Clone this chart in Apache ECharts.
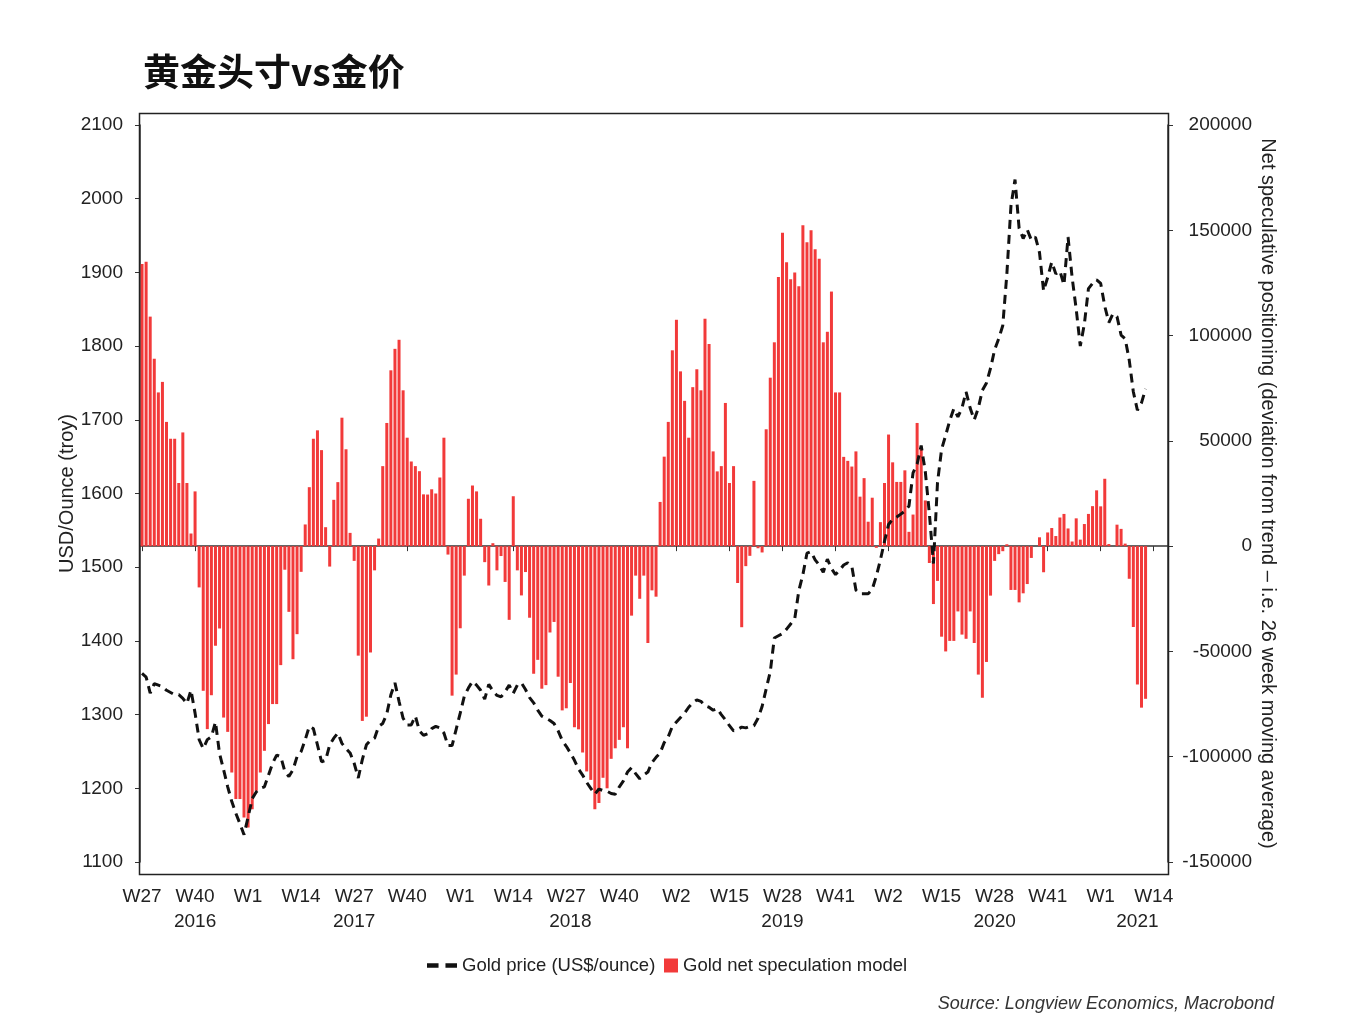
<!DOCTYPE html>
<html>
<head>
<meta charset="utf-8">
<script src="https://cdn.jsdelivr.net/npm/echarts@6/dist/echarts.min.js"></script>
<style>html,body{margin:0;padding:0;background:#fff}#c{width:1350px;height:1029px}</style>
</head>
<body>
<div id="c"></div>
<script>
// ---------- DATA ----------
const weekRanges = [[2016,27,52],[2017,1,52],[2018,1,52],[2019,1,52],[2020,1,53],[2021,1,17]];
const categories = [];
weekRanges.forEach(([y,a,b]) => { for (let w = a; w <= b; w++) categories.push(y + '-W' + w); });

const tickCats = ['2016-W27','2016-W40','2017-W1','2017-W14','2017-W27','2017-W40','2018-W1','2018-W14','2018-W27','2018-W40',
  '2019-W2','2019-W15','2019-W28','2019-W41','2020-W2','2020-W15','2020-W28','2020-W41','2021-W1','2021-W14'];
const yearCats = ['2016-W40','2017-W27','2018-W28','2019-W28','2020-W28','2021-W10'];
const yearText = ['2016','2017','2018','2019','2020','2021'];

const netSpec = [
 134000,135000,109000,89000,73000,78000,59000,51000,51000,30000,54000,30000,6000,26000,
 -19600,-68700,-86900,-70800,-47300,-39100,-81400,-88200,-107500,-120100,-120100,-128900,-133600,-124900,
 -116200,-107500,-97200,-84500,-75000,-75000,-56500,-11200,-31200,-53700,-41800,-12200,
 10300,28000,51000,55000,45600,9000,-9700,22000,30400,61000,46000,6300,
 -7000,-52000,-83000,-81000,-50500,-11500,
 3600,38000,58500,83500,93700,98000,74000,51500,40200,38000,35600,24600,24500,27000,25000,32600,51500,
 -4000,-71000,-61000,-39000,-14000,
 22500,28800,26000,13000,-7600,-18700,1400,-11500,-4700,-17000,-35000,23700,
 -11500,-23400,-12300,-34000,-60600,-54000,-67700,-66000,-41000,-36000,-62000,-78000,-77000,-65000,
 -86000,-87000,-98000,-107000,-111000,-125000,-122000,-110000,-115000,-101000,-96000,-92000,-86000,-96000,
 -33000,-14000,-25000,-14000,-46000,-21000,-24000,
 21000,42500,59000,93000,107500,83000,69000,51500,75500,84000,74000,108000,96000,45000,35500,38000,68000,30000,38000,
 -17500,-38500,-9500,-4600,31000,-1000,-3000,
 55500,80000,96800,127800,148800,134800,126800,129900,123400,152400,144300,150000,141000,136500,96800,101800,120900,
 73000,73000,42400,40500,37800,45000,23500,32300,11600,23000,-800,11400,30000,53000,39800,30500,30500,36000,6800,
 15000,58500,46600,21700,
 -8000,-27500,-16500,-43000,-50000,-45000,-45000,-31000,-42000,-44000,-31000,-46000,-61000,-72000,-55000,-23500,
 -7000,-3800,-2400,900,-20800,-20800,-26700,-22400,-18000,-5600,0,4200,-12400,
 6500,8600,4800,13600,15300,8400,2200,13200,3100,10500,15300,19000,26500,18900,32000,1000,0,10200,8200,1200,
 -15500,-38400,-65700,-76700,-72500
];

const goldPrice = [
 1356,1351,1329,1342,1340,1338,1333,1330,1327,1327,1322,1315,1333,1302,1266,1254,1266,1270,1290,1247,
 1225,1202,1182,1166,1152,1137,1161,1186,1195,1200,1202,1218,1234,1245,1243,1223,1216,1225,1243,1250,
 1266,1284,1281,1259,1236,1238,1259,1268,1275,1261,1254,1248,1234,1214,1239,1259,1265,1268,1284,1288,
 1301,1327,1343,1318,1295,1286,1286,1298,1278,1272,1274,1281,1284,1282,1275,1258,1258,1280,1302,1325,
 1336,1345,1340,1333,1321,1341,1332,1326,1324,1331,1340,1329,1340,1343,1334,1323,1316,1306,1298,1295,
 1292,1288,1278,1265,1257,1248,1238,1226,1218,1208,1200,1192,1199,1197,1196,1193,1192,1202,1210,1222,
 1228,1220,1213,1218,1222,1235,1242,1248,1262,1270,1284,1290,1296,1302,1310,1316,1320,1318,1312,1310,
 1306,1308,1300,1293,1285,1278,1280,1283,1282,1284,1285,1295,1311,1335,1358,1404,1407,1410,1416,1423,
 1430,1468,1490,1519,1521,1510,1503,1493,1511,1498,1490,1496,1503,1506,1501,1469,1464,1464,1464,1470,
 1488,1510,1535,1558,1565,1568,1572,1576,1583,1628,1640,1665,1630,1573,1505,1615,1660,1679,1699,1715,
 1704,1716,1738,1716,1700,1716,1740,1750,1770,1795,1810,1828,1898,1990,2026,1960,1946,1958,1944,1948,
 1927,1875,1893,1914,1898,1902,1883,1948,1893,1850,1800,1830,1878,1885,1890,1885,1854,1832,1844,1840,
 1815,1810,1781,1738,1713,1723,1742
];

// ---------- CHART ----------
const FONT = 'Liberation Sans, Arial, sans-serif';
const tickSet = new Set(tickCats);
const yearMap = {}; yearCats.forEach((c, i) => yearMap[c] = yearText[i]);

const chart = echarts.init(document.getElementById('c'), null, {renderer: 'canvas'});
chart.setOption({
  animation: false,
  backgroundColor: '#fff',
  title: {
    text: '黄金头寸vs金价', left: 138, top: 48,
    textStyle: {fontSize: 37, fontWeight: 'bold', color: '#111', fontFamily: 'Noto Sans CJK SC'}
  },
  grid: {left: 140, right: 182, top: 125, bottom: 167},
  legend: [
    {data: [{name: 'Gold price (US$/ounce)', icon: 'path://M0,0H10V4H0Z M16,0H26V4H16Z'}],
     left: 422, top: 951, itemWidth: 30, itemHeight: 5, itemGap: 5,
     textStyle: {fontSize: 18.5, color: '#222', fontFamily: FONT}},
    {data: [{name: 'Gold net speculation model', icon: 'rect'}], left: 659, top: 951, itemWidth: 14, itemHeight: 14,
     textStyle: {fontSize: 18.5, color: '#222', fontFamily: FONT}}
  ],
  xAxis: [
    {type: 'category', data: categories, boundaryGap: true, position: 'bottom', offset: 12,
     axisLine: {show: true, lineStyle: {color: '#333', width: 1.5}},
     axisTick: {show: true, length: 5, interval: (i, v) => tickSet.has(v), alignWithLabel: true, lineStyle: {color: '#333'}},
     axisLabel: {interval: (i, v) => tickSet.has(v), formatter: v => v.split('-')[1], margin: 13,
                 fontSize: 19, color: '#222', fontFamily: FONT},
     splitLine: {show: false}},
    {type: 'category', data: categories, boundaryGap: true, position: 'bottom', offset: 12, gridIndex: 0,
     axisLine: {show: false}, axisTick: {show: false},
     axisLabel: {interval: (i, v) => yearMap[v] !== undefined, formatter: v => yearMap[v] || '', margin: 38,
                 fontSize: 19, color: '#222', fontFamily: FONT},
     splitLine: {show: false}}
  ],
  yAxis: [
    {type: 'value', position: 'left', min: 1100, max: 2100, interval: 100,
     name: 'USD/Ounce (troy)', nameLocation: 'middle', nameRotate: 90, nameGap: 63, nameMoveOverlap: false,
     nameTextStyle: {fontSize: 20, color: '#222', fontFamily: FONT},
     axisLine: {show: true, lineStyle: {color: '#333', width: 1.5}},
     axisTick: {show: true, length: 5, lineStyle: {color: '#333'}},
     axisLabel: {margin: 17, fontSize: 19, color: '#222', fontFamily: FONT, formatter: v => String(v)},
     splitLine: {show: false}},
    {type: 'value', position: 'right', min: -150000, max: 200000, interval: 50000,
     name: 'Net speculative positioning (deviation from trend \u2013 i.e. 26 week moving average)',
     nameLocation: 'middle', nameRotate: -90, nameGap: 90, nameMoveOverlap: false,
     nameTextStyle: {fontSize: 20, color: '#222', fontFamily: FONT},
     axisLine: {show: true, lineStyle: {color: '#333', width: 1.5}},
     axisTick: {show: true, length: 5, lineStyle: {color: '#333'}},
     axisLabel: {margin: 84, align: 'right', fontSize: 19, color: '#222', fontFamily: FONT, formatter: v => String(v)},
     splitLine: {show: false}}
  ],
  series: [
    {name: 'Gold net speculation model', type: 'bar', xAxisIndex: 0, yAxisIndex: 1, data: netSpec,
     barWidth: 3, itemStyle: {color: '#f23a3a'}, z: 2},
    {name: 'Gold price (US$/ounce)', type: 'line', xAxisIndex: 0, yAxisIndex: 0, data: goldPrice,
     symbol: 'none', smooth: false, z: 3,
     lineStyle: {color: '#111', width: 3, type: [9, 6]}, itemStyle: {color: '#111'}}
  ],
  graphic: [
    {type: 'rect', shape: {x: 139.5, y: 113.5, width: 1029, height: 761}, silent: true, z: 10,
     style: {fill: 'none', stroke: '#222', lineWidth: 1.5}},
    {type: 'text', x: 1274, y: 1004, silent: true,
     style: {text: 'Source: Longview Economics, Macrobond', align: 'right', verticalAlign: 'middle',
             font: 'italic 18px Liberation Sans, Arial, sans-serif', fill: '#333'}}
  ]
});
</script>
</body>
</html>
